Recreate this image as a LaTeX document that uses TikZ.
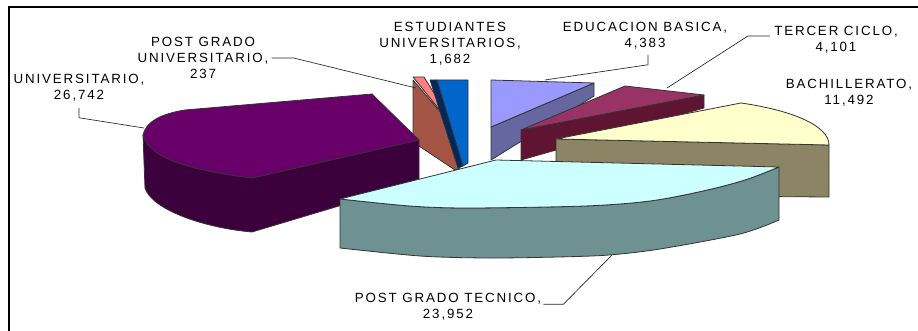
\documentclass[tikz,border=0pt]{standalone}
\usepackage{fontspec}
\setmainfont{Liberation Sans}
\newfontfamily\lblfont[LetterSpace=14]{Liberation Sans}
\usepackage{tikz}
\usetikzlibrary{arrows,positioning}
\usepackage{xcolor}
\definecolor{lavtop}{RGB}{153,153,255}
\definecolor{lavside}{RGB}{102,102,160}
\definecolor{martop}{RGB}{153,51,102}
\definecolor{marside}{RGB}{95,20,50}
\definecolor{yeltop}{RGB}{255,255,204}
\definecolor{yelside}{RGB}{140,132,100}
\definecolor{cyantop}{RGB}{204,255,255}
\definecolor{cyanside}{RGB}{110,145,145}
\definecolor{purtop}{RGB}{105,0,105}
\definecolor{purside}{RGB}{60,0,60}
\definecolor{salmtop}{RGB}{255,128,128}
\definecolor{salmside}{RGB}{165,85,70}
\definecolor{bluetop}{RGB}{0,102,204}
\definecolor{blueside}{RGB}{0,40,90}
\tikzstyle{lbl} = [font=\lblfont\fontsize{10}{12}\selectfont, align=center, inner sep=0pt]
\tikzstyle{leader} = [line width=0.5pt, color=black!85]
\tikzstyle{face} = [draw=black!80, line width=0.6pt, line join=round]

\begin{document}
\begin{tikzpicture}[x=0.75pt, y=-0.75pt]
\useasboundingbox (0,0) rectangle (918,331);
% Frame
\draw[line width=1.6pt] (9,331) -- (9,7) -- (918,7);

% Back slices
\filldraw[face, fill=lavside] (491,127) -- (594,83) -- (594,96) -- (491,160) -- cycle;
\filldraw[face, fill=lavtop] (491,80) -- (594,83) -- (491,127) -- cycle;
\filldraw[face, fill=marside] (521,130) -- (704,95) -- (704,108) -- (521,160) -- cycle;
\filldraw[face, fill=martop] (521,130) -- (625,86) -- (704,95) -- cycle;
\filldraw[face, fill=yelside] (556,139) -- (829,145) -- (829,197) -- (556,195) -- cycle;
\filldraw[face, fill=yeltop] (556,139) -- (741,103) .. controls (790,110) and (829,125) .. (829,145) -- cycle;

% Small slices
\filldraw[face, fill=salmside] (413,80) -- (460,135) -- (460,168) -- (455,170) -- (413,142) -- cycle;
\filldraw[face, fill=salmtop] (413,77) -- (424,77) -- (460,135) -- cycle;
\filldraw[face, fill=blueside] (430,80) -- (437,80) -- (463,166) -- (458,168) -- cycle;
\filldraw[face, fill=bluetop] (437,80) -- (468,80) -- (468,163) -- (463,166) -- cycle;

% Universitario
\filldraw[face, fill=purside] (143,135) -- (145,188) .. controls (152,210) and (205,228) .. (252,232)
  -- (419,182) -- (419,140) -- (252,178) .. controls (205,172) and (150,162) .. (143,135) -- cycle;
\filldraw[face, fill=purtop] (143,135) .. controls (146,122) and (160,114) .. (185,110) -- (372,94)
  -- (419,140) -- (252,178) .. controls (205,172) and (150,162) .. (143,135) -- cycle;

% Post grado tecnico
\filldraw[face, fill=cyanside] plot[smooth] coordinates {(340,199) (410,206) (468,208) (585,206) (650,201) (703,191) (745,180) (779,167)}
  -- plot[smooth] coordinates {(779,220) (740,234) (660,249) (609,255) (558,257) (487,258) (420,256) (340,248)} -- cycle;
\filldraw[face, fill=cyantop] (340,199) -- (496,160) -- (779,167)
  -- plot[smooth] coordinates {(779,167) (745,180) (703,191) (650,201) (585,206) (468,208) (410,206) (340,199)} -- cycle;

% Labels
\node[lbl] (univ) at (79,88) {UNIVERSITARIO,\\26,742};
\node[lbl] (pgu) at (203,58) {POST GRADO\\UNIVERSITARIO,\\237};
\node[lbl] (est) at (450,44) {ESTUDIANTES\\UNIVERSITARIOS,\\1,682};
\node[lbl] (edu) at (645,36) {EDUCACION BASICA,\\4,383};
\node[lbl] (tercer) at (836,40) {TERCER CICLO,\\4,101};
\node[lbl] (bach) at (849,93) {BACHILLERATO,\\11,492};
\node[lbl] (pgt) at (448,307) {POST GRADO TECNICO,\\23,952};

% Leader lines
\coordinate (pUniv) at (144,128);
\coordinate (pPgu) at (416,88);
\coordinate (pEdu) at (545,80);
\coordinate (pTer) at (667,88);
\coordinate (pPgt) at (612,255);
\draw[leader] (univ.south) ++(0,6) -- ++(0,10) -- (pUniv);
\draw[leader] (pgu.east) ++(3,0) -- ++(22,0) -- (pPgu);
\draw[leader] (edu.south) ++(3,5) -- ++(0,10) -- (pEdu);
\draw[leader] ([yshift=3pt]tercer.west) ++(-4,0) -- ++(-22,0) -- (pTer);
\draw[leader] ([yshift=2pt]pgt.east) ++(2,0) -- ++(20,0) -- (pPgt);
\end{tikzpicture}
\end{document}
